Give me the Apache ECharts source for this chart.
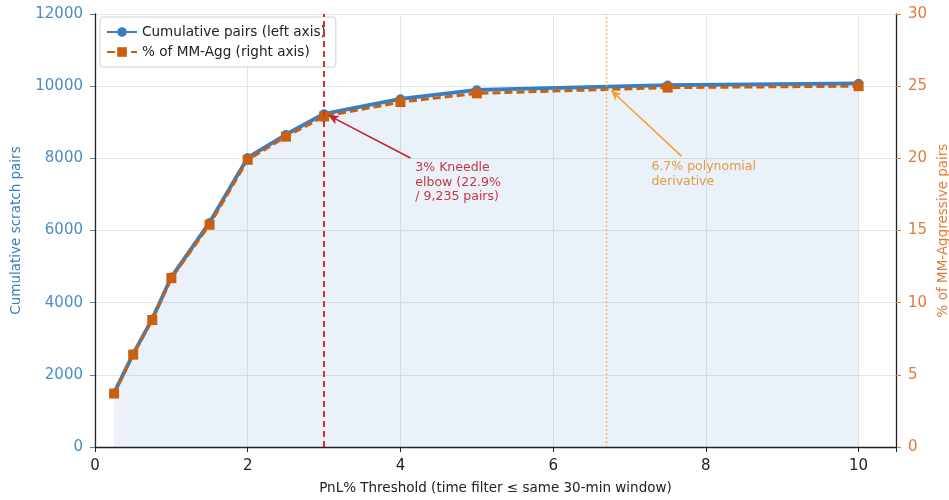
<!DOCTYPE html>
<html>
<head>
<meta charset="utf-8">
<script src="https://cdn.jsdelivr.net/npm/echarts@6/dist/echarts.min.js"></script>
<style>
  html, body { margin: 0; padding: 0; background: #fff; overflow: hidden; }
  #chart { width: 949px; height: 500px; }
</style>
</head>
<body>
<div id="chart"></div>
<script>
// PnL% thresholds tested
const thresholds = [0.25, 0.5, 0.75, 1, 1.5, 2, 2.5, 3, 4, 5, 7.5, 10];
// Cumulative scratch pairs at each threshold (left axis)
const cumulativePairs = [1500, 2580, 3550, 4710, 6220, 8020, 8660, 9235, 9650, 9900, 10030, 10080];
// Share of MM-Aggressive pairs, in percent (right axis)
const pctMMAgg = [3.7, 6.4, 8.8, 11.7, 15.4, 19.9, 21.5, 22.9, 23.9, 24.5, 24.9, 25.0];
// Reference thresholds
const kneedleElbow = 3;
const polyDerivative = 6.7;

const FONT = 'DejaVu Sans';
const BLUE = '#3a7ebf';
const ORANGE = '#c9600f';
const RED = '#d62f38';
const LIGHT_ORANGE = '#f5a033';

const chart = echarts.init(document.getElementById('chart'), null, { renderer: 'canvas' });

const pairsData = thresholds.map((t, i) => [t, cumulativePairs[i]]);
const pctData = thresholds.map((t, i) => [t, pctMMAgg[i]]);

const option = {
  animation: false,
  textStyle: { fontFamily: FONT },
  grid: { left: 95, right: 53, top: 14, bottom: 53, containLabel: false, outerBoundsMode: 'none' },
  legend: {
    orient: 'vertical',
    left: 100, top: 17,
    padding: [8, 10, 8, 6],
    itemGap: 6,
    itemWidth: 30, itemHeight: 12,
    backgroundColor: 'rgba(255,255,255,0.85)',
    borderColor: '#d0d0d0', borderWidth: 1, borderRadius: 3,
    textStyle: { fontFamily: FONT, fontSize: 13.6, color: '#222' },
    data: ['Cumulative pairs (left axis)', '% of MM-Agg (right axis)']
  },
  xAxis: {
    type: 'value', min: 0, max: 10.49, interval: 2,
    name: 'PnL% Threshold (time filter ≤ same 30-min window)',
    nameLocation: 'middle', nameGap: 34,
    nameTextStyle: { fontFamily: FONT, fontSize: 13.5, color: '#222' },
    axisLine: { lineStyle: { color: '#222', width: 1.3 } },
    axisTick: { show: true, length: 5, lineStyle: { color: '#222' } },
    axisLabel: {
      fontFamily: FONT, fontSize: 15, color: '#222', margin: 12,
      formatter: v => (Math.abs(v % 2) < 1e-9 ? String(v) : '')
    },
    splitLine: { show: true, lineStyle: { color: '#e6e6e6', width: 1 } }
  },
  yAxis: [
    {
      type: 'value', min: 0, max: 12000, interval: 2000, position: 'left',
      name: 'Cumulative scratch pairs',
      nameLocation: 'middle', nameGap: 72,
      nameTextStyle: { fontFamily: FONT, fontSize: 13.5, color: BLUE },
      axisLine: { show: true, lineStyle: { color: '#222', width: 1.3 } },
      axisTick: { show: true, length: 5, lineStyle: { color: BLUE } },
      axisLabel: { fontFamily: FONT, fontSize: 15, color: '#4a8cca', margin: 12, formatter: v => String(v) },
      splitLine: { show: true, lineStyle: { color: '#e6e6e6', width: 1 } }
    },
    {
      type: 'value', min: 0, max: 30, interval: 5, position: 'right',
      name: '% of MM-Aggressive pairs',
      nameLocation: 'middle', nameGap: 40, nameRotate: 90,
      nameMoveOverlap: false,
      nameTextStyle: { fontFamily: FONT, fontSize: 13.5, color: '#e07b3a' },
      axisLine: { show: true, lineStyle: { color: '#222', width: 1.3 } },
      axisTick: { show: true, length: 5, lineStyle: { color: '#e07b3a' } },
      axisLabel: { fontFamily: FONT, fontSize: 15, color: '#e07b3a', margin: 12 },
      splitLine: { show: false }
    }
  ],
  series: [
    {
      name: 'Cumulative pairs (left axis)',
      type: 'line', yAxisIndex: 0, data: pairsData,
      symbol: 'circle', symbolSize: 9,
      itemStyle: { color: BLUE },
      lineStyle: { color: BLUE, width: 3.8 },
      areaStyle: { color: 'rgba(58,126,191,0.15)' },
      z: 2,
      markLine: {
        silent: true, animation: false,
        label: { show: false },
        data: [
          [
            { coord: [kneedleElbow, 0], symbol: 'none', lineStyle: { color: RED, width: 2, type: [6, 4] } },
            { coord: [kneedleElbow, 12000], symbol: 'none' }
          ],
          [
            { coord: [polyDerivative, 0], symbol: 'none', lineStyle: { color: LIGHT_ORANGE, width: 1.4, type: [1.5, 2.5] } },
            { coord: [polyDerivative, 12000], symbol: 'none' }
          ],
          [
            { coord: [4.13, 8010], symbol: 'none', lineStyle: { color: '#c8202c', width: 1.6, type: 'solid' } },
            { coord: [3.06, 9190], symbol: 'arrow', symbolSize: [7, 10] }
          ],
          [
            { coord: [7.68, 8060], symbol: 'none', lineStyle: { color: LIGHT_ORANGE, width: 1.6, type: 'solid' } },
            { coord: [6.76, 9880], symbol: 'arrow', symbolSize: [7, 10] }
          ]
        ]
      }
    },
    {
      name: '% of MM-Agg (right axis)',
      type: 'line', yAxisIndex: 1, data: pctData,
      symbol: 'rect', symbolSize: 10,
      itemStyle: { color: ORANGE },
      lineStyle: { color: ORANGE, width: 3, type: [8, 4] },
      z: 3
    }
  ]
};

chart.setOption(option);

// Annotation texts anchored in data space
const redPos = chart.convertToPixel({ xAxisIndex: 0, yAxisIndex: 0 }, [4.13, 8010]);
const orgPos = chart.convertToPixel({ xAxisIndex: 0, yAxisIndex: 0 }, [7.68, 8060]);
chart.setOption({
  graphic: [
    {
      type: 'text', left: redPos[0] + 5, top: redPos[1] + 3,
      style: {
        text: '3% Kneedle\nelbow (22.9%\n/ 9,235 pairs)',
        fill: RED, font: '12.5px "DejaVu Sans"', lineHeight: 14.5
      }
    },
    {
      type: 'text', left: orgPos[0] - 30, top: orgPos[1] + 3,
      style: {
        text: '6.7% polynomial\nderivative',
        fill: LIGHT_ORANGE, font: '12.5px "DejaVu Sans"', lineHeight: 15
      }
    }
  ]
});
</script>
</body>
</html>
